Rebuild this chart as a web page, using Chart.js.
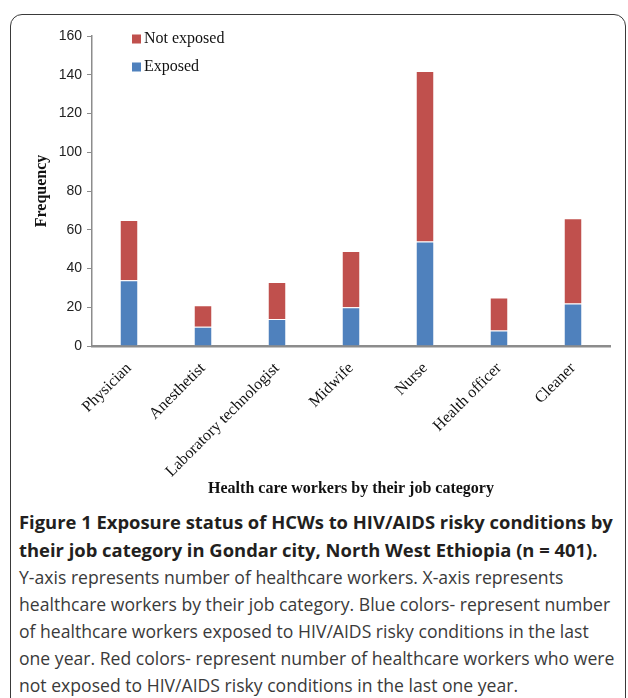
<!DOCTYPE html>
<html>
<head>
<meta charset="utf-8">
<script src="https://cdn.jsdelivr.net/npm/chart.js@4.4.0/dist/chart.umd.min.js"></script>
<style>
html, body { margin: 0; padding: 0; background: #fff; }
body { width: 628px; height: 698px; position: relative; overflow: hidden; }
#frame {
	position: absolute; left: 10px; top: 14px; width: 614px; height: 720px;
	border: 1.5px solid #3a3a3a; border-radius: 12px;
}
#wrap { position: absolute; left: 10px; top: 14px; width: 616px; height: 486px; }
#caption {
	position: absolute; left: 19px; top: 508px; width: 605px;
	font-family: "Open Sans", "Noto Sans", sans-serif; font-size: 17.6px; line-height: 27px;
	color: #3a3a3a; white-space: nowrap;
}
#caption b { color: #231f20; font-weight: 700; font-size: 18.4px; }
</style>
</head>
<body>
<div id="frame"></div>
<div id="wrap"><canvas id="hcw"></canvas></div>
<div id="caption">
<b>Figure 1 Exposure status of HCWs to HIV/AIDS risky conditions by<br>
their job category in Gondar city, North West Ethiopia (n = 401).</b><br>
Y-axis represents number of healthcare workers. X-axis represents<br>
healthcare workers by their job category. Blue colors- represent number<br>
of healthcare workers exposed to HIV/AIDS risky conditions in the last<br>
one year. Red colors- represent number of healthcare workers who were<br>
not exposed to HIV/AIDS risky conditions in the last one year.
</div>
<script>
var jobs = ['Physician', 'Anesthetist', 'Laboratory technologist', 'Midwife', 'Nurse', 'Health officer', 'Cleaner'];
var exposed = [34, 10, 14, 20, 54, 8, 22];
var notExposed = [31, 11, 19, 29, 88, 17, 44];
var yTicks = [0, 20, 40, 60, 80, 100, 120, 140, 160];

// legend drawn inside the plot, top-left, stacked order (top series first)
var boxLegend = {
	id: 'boxLegend',
	afterDraw: function(chart) {
		var ctx = chart.ctx, area = chart.chartArea;
		var sets = chart.data.datasets.slice().reverse();
		ctx.save();
		ctx.font = '16px "Liberation Serif", "Times New Roman", serif';
		ctx.textBaseline = 'middle';
		sets.forEach(function(ds, i) {
			var x = area.left + 40, y = area.top + 3 + i * 28;
			ctx.fillStyle = ds.backgroundColor;
			ctx.fillRect(x, y - 4.5, 9, 9);
			ctx.fillStyle = '#111';
			ctx.fillText(ds.label, x + 12, y);
		});
		ctx.restore();
	}
};

var config = {
type: 'bar',
data: {
	labels: jobs,
	datasets: [{
		label: 'Exposed',
		data: exposed,
		backgroundColor: '#4F81BD',
		borderColor: 'rgba(255,255,255,0.35)',
		borderWidth: 1,
		categoryPercentage: 0.25,
		barPercentage: 1
	}, {
		label: 'Not exposed',
		data: notExposed,
		backgroundColor: '#C0504D',
		borderColor: 'rgba(255,255,255,0.35)',
		borderWidth: 1,
		categoryPercentage: 0.25,
		barPercentage: 1
	}]
},
options: {
	responsive: true,
	maintainAspectRatio: false,
	animation: false,
	layout: { padding: { left: 22, right: 16, top: 22, bottom: 0 } },
	plugins: {
		legend: { display: false },
		tooltip: { enabled: false }
	},
	scales: {
		x: {
			stacked: true,
			grid: { display: false },
			border: { display: true, color: '#8c8c8c', width: 2.5 },
			ticks: {
				autoSkip: false, minRotation: 45, maxRotation: 45, padding: 5,
				color: '#111',
				font: { family: '"Liberation Serif", "Times New Roman", serif', size: 16 }
			},
			title: {
				display: true,
				text: 'Health care workers by their job category',
				color: '#111',
				padding: { top: 0, bottom: 2 },
				font: { family: '"Liberation Serif", "Times New Roman", serif', size: 16, weight: 'bold' }
			},
			afterFit: function(scale) { scale.height = 154; }
		},
		y: {
			stacked: true,
			min: 0, max: 160,
			afterBuildTicks: function(scale) {
				scale.ticks = yTicks.map(function(v) { return { value: v }; });
			},
			grid: { display: true, drawOnChartArea: false, drawTicks: true, tickLength: 5, color: '#8c8c8c' },
			border: { display: true, color: '#8c8c8c', width: 1.5 },
			ticks: {
				padding: 5, color: '#222',
				font: { family: '"Liberation Sans", Arial, sans-serif', size: 14 }
			},
			title: {
				display: true,
				text: 'Frequency',
				color: '#111',
				padding: 0,
				font: { family: '"Liberation Serif", "Times New Roman", serif', size: 16, weight: 'bold' }
			},
			afterFit: function(scale) { scale.width = 60; }
		}
	}
},
plugins: [boxLegend]
};

window.onload = function() {
var ctx = document.getElementById('hcw').getContext('2d');
window.hcwChart = new Chart(ctx, config);
};
</script>
</body>
</html>
